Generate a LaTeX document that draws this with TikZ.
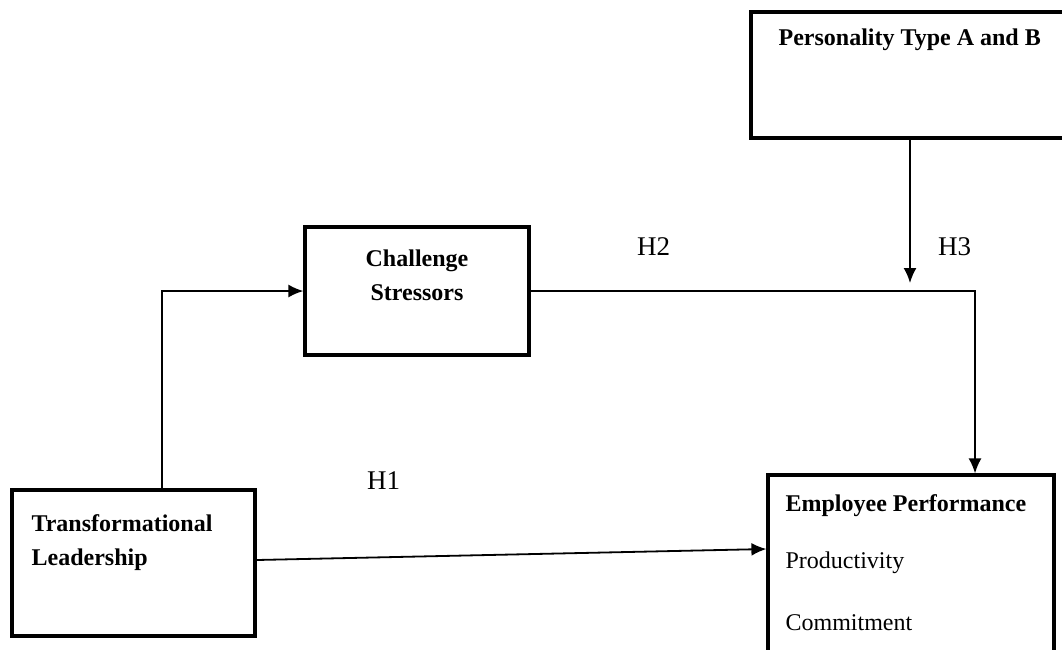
\documentclass[tikz,border=0pt]{standalone}
\usepackage{fontspec}
\setmainfont{Liberation Serif}
\usetikzlibrary{arrows.meta}
\usetikzlibrary{positioning}
\tikzset{box/.style = {draw, rectangle, line width = 3.2pt, inner sep = 0}}
\tikzset{link/.style = {line width = 1.8pt, -{Latex[length = 15pt, width = 13pt]}}}
\tikzset{lbl/.style = {inner sep = 0, font = \fontsize{24}{34}\selectfont}}
\tikzset{hyp/.style = {inner sep = 0, anchor = base west, font = \fontsize{27}{30}\selectfont}}

\begin{document}
\begin{tikzpicture}[x = 1pt, y = -1pt]
    \useasboundingbox (0, 0) rectangle (1062, 649);

    % boxes
    \node [box, minimum width = 318pt, minimum height = 126pt] (pt) at (910, 75) {};
    \node [box, minimum width = 224pt, minimum height = 128pt] (cs) at (417, 291) {};
    \node [box, minimum width = 243pt, minimum height = 146pt] (tl) at (133.5, 563) {};
    \node [box, minimum width = 286pt, minimum height = 190pt] (ep) at (911, 570) {};

    \node [lbl, anchor = base west] (ptname) at ([xshift = 29pt, yshift = -35pt] pt.north west) {\bfseries Personality Type A and B};
    \node [lbl, align = center, anchor = north] (csname) at ([yshift = -24pt] cs.north) {\bfseries Challenge\\\bfseries Stressors};
    \node [lbl, align = left, anchor = north west] (tlname) at ([xshift = 21pt, yshift = -26pt] tl.north west) {\bfseries Transformational\\\bfseries Leadership};
    \node [lbl, anchor = base west] (epname) at ([xshift = 19pt, yshift = -38pt] ep.north west) {\bfseries Employee Performance};
    \node [lbl, anchor = base west] (prod) at ([yshift = -57pt] epname.base west) {Productivity};
    \node [lbl, anchor = base west] (comm) at ([yshift = -62pt] prod.base west) {Commitment};

    % paths
    \coordinate (mod) at (910, 283);
    \draw [link] ([xshift = 28.5pt] tl.north) |- (cs.west);
    \draw [link] (cs.east) -| ([xshift = 64pt] ep.north);
    \draw [link] (pt.south) -- (mod);
    \draw [link] ([yshift = 3pt] tl.east) -- ([yshift = 21pt] ep.west);

    \node [hyp] (h1) at (367, 489) {H1};
    \node [hyp] (h2) at (637, 255) {H2};
    \node [hyp] (h3) at (938, 255) {H3};
\end{tikzpicture}
\end{document}
